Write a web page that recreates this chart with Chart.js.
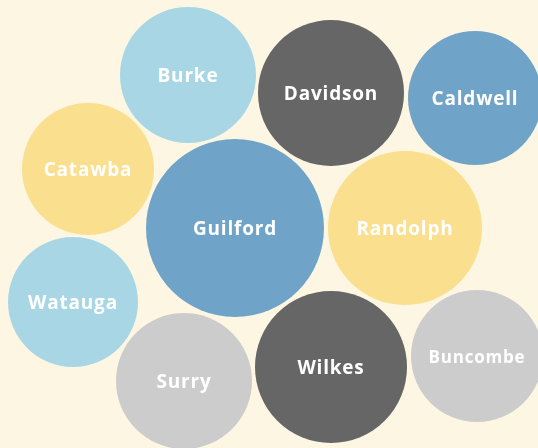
<!DOCTYPE html>
<html>
<head>
<meta charset="utf-8">
<script src="https://cdn.jsdelivr.net/npm/chart.js@4"></script>
<style>
  html, body { margin: 0; padding: 0; background: #fdf6e3; }
  #wrap { width: 538px; height: 448px; }
</style>
</head>
<body>
<div id="wrap"><canvas id="bolhas" width="538" height="448"></canvas></div>
<script>
// condados e posições do empacotamento (coordenadas do gráfico)
const condados = ['Burke', 'Davidson', 'Caldwell', 'Catawba', 'Guilford', 'Randolph', 'Watauga', 'Surry', 'Wilkes', 'Buncombe'];
const posX = [188, 331, 475, 88, 235, 405, 73, 184, 331, 477];
const posY = [75, 93, 98, 169, 228, 228, 302, 381, 367, 356];
const raios = [68, 73, 67, 66, 89, 77, 65, 68, 76, 66];
const grupos = ['claro', 'escuro', 'azul', 'amarelo', 'azul', 'amarelo', 'claro', 'cinza', 'escuro', 'cinza'];

const cores = {
  claro: '#a8d6e5',
  escuro: '#666666',
  azul: '#6fa3c8',
  amarelo: '#fadf8e',
  cinza: '#cccccc'
};

const pontos = condados.map((c, i) => ({ x: posX[i], y: posY[i], r: raios[i] }));

// plugin simples para escrever os nomes no centro das bolhas
const rotulos = {
  id: 'rotulos',
  afterDatasetsDraw(chart) {
    const ctx = chart.ctx;
    const meta = chart.getDatasetMeta(0);
    ctx.save();
    ctx.fillStyle = '#ffffff';
    ctx.textAlign = 'center';
    ctx.textBaseline = 'middle';
    ctx.letterSpacing = '0.8px';
    meta.data.forEach((el, i) => {
      const tam = condados[i] === 'Buncombe' ? 17 : 19;
      ctx.font = `bold ${tam}px "Open Sans", Lato, sans-serif`;
      ctx.fillText(condados[i], el.x, el.y + 2);
    });
    ctx.restore();
  }
};

new Chart(document.getElementById('bolhas'), {
  type: 'bubble',
  data: {
    labels: condados,
    datasets: [{
      data: pontos,
      backgroundColor: grupos.map(g => cores[g]),
      borderWidth: 0,
      hoverBorderWidth: 0,
      hoverRadius: 0,
      clip: false
    }]
  },
  options: {
    responsive: false,
    animation: false,
    events: [],
    layout: { padding: 0, autoPadding: false },
    scales: {
      x: { type: 'linear', min: 0, max: 538, display: false },
      y: { type: 'linear', min: 0, max: 448, reverse: true, display: false }
    },
    plugins: {
      legend: { display: false },
      tooltip: { enabled: false }
    }
  },
  plugins: [rotulos]
});
</script>
</body>
</html>
